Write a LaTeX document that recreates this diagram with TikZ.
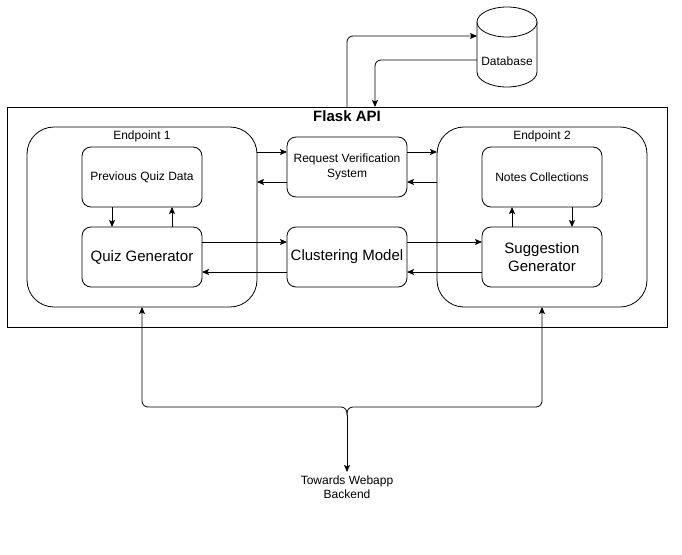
\documentclass[tikz,border=0pt]{standalone}
\usepackage{fontspec}
\setmainfont{Liberation Sans}
\usetikzlibrary{positioning, arrows.meta}

\tikzset{
  small/.style={font=\fontsize{12}{14.5}\selectfont},
  box/.style={draw, fill=white, rounded corners=9pt, minimum width=120pt, minimum height=60pt, align=center, small},
  bigbox/.style={box, font=\fontsize{15}{18}\selectfont},
  endpoint/.style={draw, rounded corners=27pt, minimum height=180pt},
}

\begin{document}
\begin{tikzpicture}[x=1pt, y=-1pt, ->, >={Stealth[length=7pt, width=6pt, inset=1.5pt]},
    line width=0.8pt, every node/.append style={outer sep=0pt}]
    \useasboundingbox (0,0) rectangle (682,554);
    % api frame
    \node[draw, minimum width=660pt, minimum height=220pt] (flask) at (337,217) {};
    \node[anchor=north, font=\bfseries\fontsize{15}{18}\selectfont] (title) at (347,107) {Flask API};

    % endpoints
    \node[endpoint, minimum width=230pt] (ep1) at (142,217) {};
    \node[endpoint, minimum width=210pt] (ep2) at (542,217) {};
    \node[small, anchor=north] (ep1label) at (ep1.north) {Endpoint 1};
    \node[small, anchor=north] (ep2label) at (ep2.north) {Endpoint 2};

    \node[box] (pqd) at (142,177) {Previous Quiz Data};
    \node[bigbox, below=20pt of pqd] (qg) {Quiz Generator};
    \node[bigbox, right=85pt of qg] (cm) {Clustering Model};
    \node[box, above=30pt of cm] (rvs) {Request Verification\\System};
    \node[bigbox, right=75pt of cm] (sg) {Suggestion\\Generator};
    \node[box, above=20pt of sg] (nc) {Notes Collections};

    % database
    \node[minimum width=60pt, minimum height=50pt, inner sep=0pt] (db) at (507,47) {};
    \draw[-, fill=white] (db.north west) -- (db.south west)
        arc[start angle=180, end angle=360, x radius=30pt, y radius=15pt] -- (db.north east);
    \draw[-, fill=white] (db.north) ellipse[x radius=30pt, y radius=15pt];
    \node[small] (dblabel) at (507,61) {Database};

    \node[small, align=center] (web) at (347,487) {Towards Webapp\\Backend};
    \coordinate (fork) at (347,407);
    \coordinate (stem) at (347,415);

    % flask <-> database
    \draw[rounded corners=6pt] ([xshift=10pt]flask.north) |- ([yshift=11pt]db.west);
    \draw[rounded corners=6pt] ([yshift=-13pt]db.west) -| ([xshift=38pt]flask.north);

    % endpoints <-> verification
    \draw ([yshift=15pt]rvs.west -| ep1.east) -- ([yshift=15pt]rvs.west);
    \draw ([yshift=-15pt]rvs.west) -- ([yshift=-15pt]rvs.west -| ep1.east);
    \draw ([yshift=15pt]rvs.east) -- ([yshift=15pt]rvs.east -| ep2.west);
    \draw ([yshift=-15pt]rvs.east -| ep2.west) -- ([yshift=-15pt]rvs.east);

    % generators <-> clustering
    \draw ([yshift=15pt]qg.east) -- ([yshift=15pt]cm.west);
    \draw ([yshift=-15pt]cm.west) -- ([yshift=-15pt]qg.east);
    \draw ([yshift=15pt]cm.east) -- ([yshift=15pt]sg.west);
    \draw ([yshift=-15pt]sg.west) -- ([yshift=-15pt]cm.east);

    % data stores <-> generators
    \draw ([xshift=-30pt]pqd.south) -- ([xshift=-30pt]qg.north);
    \draw ([xshift=30pt]qg.north) -- ([xshift=30pt]pqd.south);
    \draw ([xshift=-30pt]sg.north) -- ([xshift=-30pt]nc.south);
    \draw ([xshift=30pt]nc.south) -- ([xshift=30pt]sg.north);

    % webapp fork
    \draw[rounded corners=6pt] (stem) |- (fork -| ep1.south) -- (ep1.south);
    \draw[rounded corners=6pt] (stem) |- (fork -| ep2.south) -- (ep2.south);
    \draw (stem) -- (web);
\end{tikzpicture}
\end{document}
